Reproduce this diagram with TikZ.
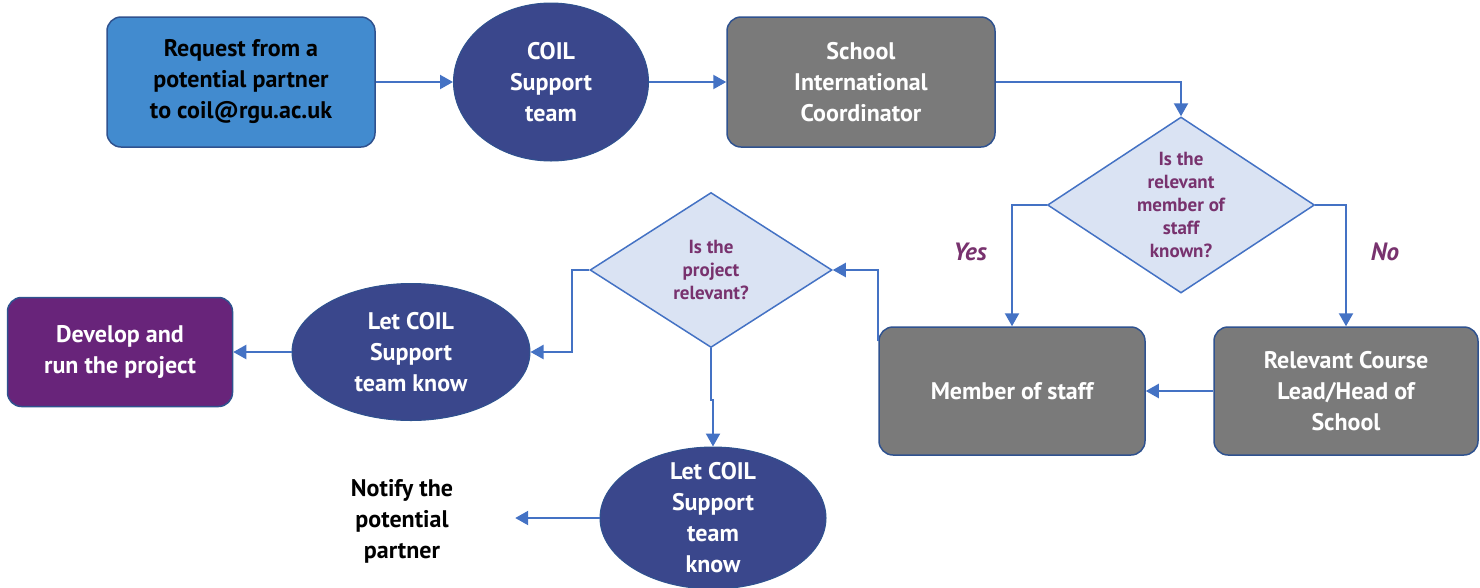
\documentclass[tikz,border=0pt]{standalone}
\usepackage{fontspec}
\setmainfont{PT Sans}
\usetikzlibrary{shapes.geometric,arrows.meta}

\definecolor{coilblue}{RGB}{66,139,207}
\definecolor{coilnavy}{RGB}{58,71,140}
\definecolor{coilgray}{RGB}{122,122,122}
\definecolor{coilpurple}{RGB}{104,36,122}
\definecolor{coilpale}{RGB}{218,227,243}
\definecolor{coilline}{RGB}{68,114,196}
\definecolor{coilborder}{RGB}{47,82,143}
\definecolor{coillabel}{RGB}{120,50,110}

\tikzset{
  flowbox/.style={draw=coilborder, line width=1.5pt, rounded corners=14pt,
    align=center, inner sep=0pt, font=\fontsize{24}{31}\selectfont\bfseries},
  coilblob/.style={ellipse, draw=coilborder, line width=1pt, fill=coilnavy,
    text=white, align=center, inner sep=0pt, font=\fontsize{24}{31}\selectfont\bfseries},
  decision/.style={diamond, draw=coilline, fill=coilpale, line width=1.5pt,
    text=coillabel, align=center, inner sep=-10pt, font=\fontsize{19}{23}\selectfont\bfseries},
  answer/.style={text=coillabel, font=\fontsize{25}{31}\selectfont\bfseries\itshape},
  flow/.style={draw=coilline, line width=2.2pt, -{Triangle[length=13pt,width=14pt]}},
}

\begin{document}
\begin{tikzpicture}[x=1pt, y=-1pt]
        \useasboundingbox (0,0) rectangle (1480,587);

        % Top row
        \node[flowbox, fill=coilblue, minimum width=268pt, minimum height=130pt] (request) at (241,82) {Request from a\\potential partner\\to coil@rgu.ac.uk};
        \node[coilblob, minimum width=195pt, minimum height=158pt] (support) at (551,82) {COIL\\Support\\team};
        \node[flowbox, fill=coilgray, text=white, minimum width=268pt, minimum height=130pt] (coordinator) at (861,82) {School\\International\\Coordinator};

        % Decisions
        \node[decision, minimum width=267pt, minimum height=176pt] (known) at (1181,205) {Is the\\relevant\\member of\\staff\\known?};
        \node[decision, minimum width=242pt, minimum height=155pt] (relevant) at (711,270) {Is the\\project\\relevant?};

        % Right boxes
        \node[flowbox, fill=coilgray, text=white, minimum width=266pt, minimum height=128pt] (member) at (1012,391) {Member of staff};
        \node[flowbox, fill=coilgray, text=white, minimum width=264pt, minimum height=128pt] (lead) at (1346,391) {Relevant Course\\Lead/Head of\\School};

        % Left side
        \node[coilblob, minimum width=238pt, minimum height=137pt] (tellyes) at (411,352) {Let COIL\\Support\\team know};
        \node[flowbox, fill=coilpurple, text=white, minimum width=225pt, minimum height=109pt] (develop) at (120,352) {Develop and\\run the project};
        \node[coilblob, inner ysep=-20pt, minimum width=226pt, minimum height=142pt] (tellno) at (713,518) {Let COIL\\Support\\team\\know};
        \node[align=center, minimum width=226pt, inner sep=0pt, font=\fontsize{24}{31}\selectfont\bfseries] (notify) at (402,521) {Notify the\\potential\\partner};

        % Yes / No labels
        \node[answer] (yes) at (970,252) {Yes};
        \node[answer] (no) at (1385,252) {No};

        % Connectors
        \draw[flow] (request) -- (support);
        \draw[flow] (support) -- (coordinator);
        \draw[flow] (coordinator.east) -| (known.north);
        \draw[flow] (known.west) -| (member.north);
        \draw[flow] (known.east) -| (lead.north);
        \draw[flow] (lead) -- (member);
        \draw[flow] ([yshift=-15pt]member.north west) |- (relevant.east);
        \draw[flow] (relevant.west) -- ++(-17,0) |- (tellyes.east);
        \draw[flow] (tellyes) -- (develop);
        \draw[flow] (relevant.south) -- ++(0,52) -| (tellno.north);
        \draw[flow] (tellno.west) -- (tellno.west -| notify.east);
    \end{tikzpicture}
\end{document}
